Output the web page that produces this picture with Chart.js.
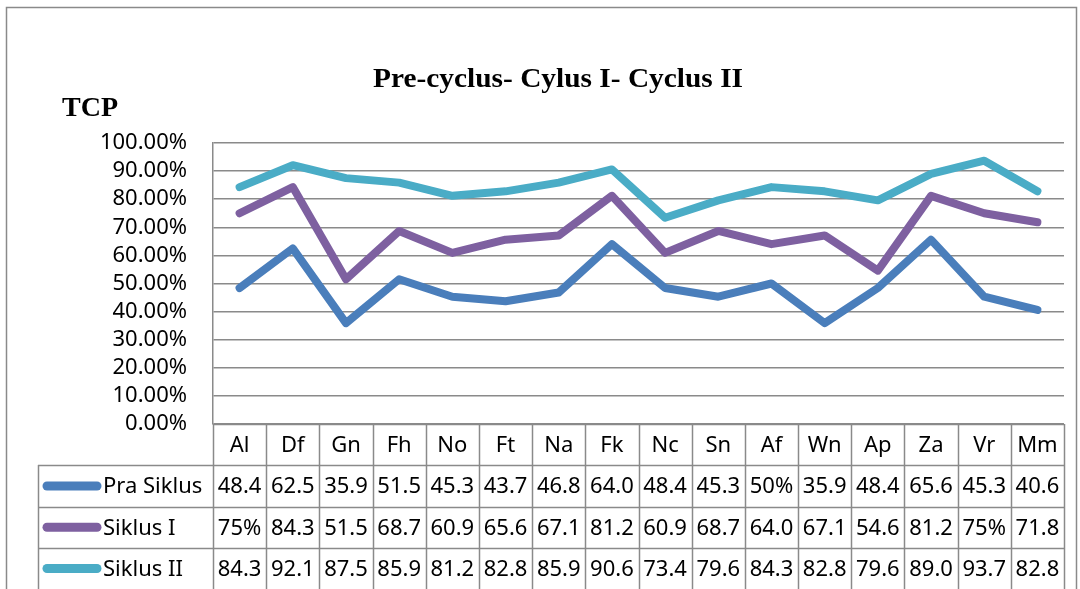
<!DOCTYPE html>
<html>
<head>
<meta charset="utf-8">
<script src="https://cdn.jsdelivr.net/npm/chart.js@4"></script>
<style>
  html, body { margin: 0; padding: 0; background: #ffffff; }
  #wrap { width: 1080px; height: 589px; overflow: hidden; }
</style>
</head>
<body>
<div id="wrap"><canvas id="c" width="1080" height="589"></canvas></div>
<script>
const categories = ["Al","Df","Gn","Fh","No","Ft","Na","Fk","Nc","Sn","Af","Wn","Ap","Za","Vr","Mm"];
const seriesNames = ["Pra Siklus", "Siklus I", "Siklus II"];
const praSiklus = [48.4, 62.5, 35.9, 51.5, 45.3, 43.7, 46.8, 64.0, 48.4, 45.3, 50, 35.9, 48.4, 65.6, 45.3, 40.6];
const siklusI   = [75, 84.3, 51.5, 68.7, 60.9, 65.6, 67.1, 81.2, 60.9, 68.7, 64.0, 67.1, 54.6, 81.2, 75, 71.8];
const siklusII  = [84.3, 92.1, 87.5, 85.9, 81.2, 82.8, 85.9, 90.6, 73.4, 79.6, 84.3, 82.8, 79.6, 89.0, 93.7, 82.8];
const praLabels = ["48.4","62.5","35.9","51.5","45.3","43.7","46.8","64.0","48.4","45.3","50%","35.9","48.4","65.6","45.3","40.6"];
const siklusILabels = ["75%","84.3","51.5","68.7","60.9","65.6","67.1","81.2","60.9","68.7","64.0","67.1","54.6","81.2","75%","71.8"];
const siklusIILabels = ["84.3","92.1","87.5","85.9","81.2","82.8","85.9","90.6","73.4","79.6","84.3","82.8","79.6","89.0","93.7","82.8"];
const chartTitle = "Pre-cyclus- Cylus I- Cyclus II";
const axisTitle = "TCP";

const colors = ["#4A7EBB", "#7E60A0", "#4AACC6"];
const gridColor = "#8a8a8a";
const bodyFont = '"Noto Sans", "Open Sans", sans-serif';
const serifFont = '"Liberation Serif", "DejaVu Serif", serif';

const tablePlugin = {
  id: 'tablePlugin',
  afterDraw(chart) {
    const ctx = chart.ctx;
    const x = chart.scales.x;
    const area = chart.chartArea;
    const n = categories.length;
    const colW = x.width / n;
    const top = area.bottom;
    const rowH = 41.3;
    const tableLeft = 38;
    const H = chart.height;
    ctx.save();
    // outer border
    ctx.strokeStyle = gridColor;
    ctx.lineWidth = 1.5;
    ctx.strokeRect(6.5, 7.5, 1070, H + 20);

    // title
    ctx.fillStyle = '#000';
    ctx.textBaseline = 'alphabetic';
    ctx.font = 'bold 27px ' + serifFont;
    let w = ctx.measureText(chartTitle).width;
    ctx.save();
    ctx.translate(558, 87);
    ctx.scale(370 / w, 1);
    ctx.textAlign = 'center';
    ctx.fillText(chartTitle, 0, 0);
    ctx.restore();
    ctx.font = 'bold 28px ' + serifFont;
    ctx.textAlign = 'left';
    ctx.fillText(axisTitle, 62, 116);

    // table lines
    ctx.strokeStyle = gridColor;
    ctx.lineWidth = 1.5;
    ctx.beginPath();
    for (let i = 0; i <= n; i++) {
      const px = Math.round(x.left + i * colW) + 0.5;
      ctx.moveTo(px, top);
      ctx.lineTo(px, H + 5);
    }
    ctx.moveTo(x.left, top + 0.5);
    ctx.lineTo(x.right, top + 0.5);
    for (let r = 1; r <= 3; r++) {
      const py = Math.round(top + r * rowH) + 0.5;
      ctx.moveTo(tableLeft, py);
      ctx.lineTo(x.right, py);
    }
    ctx.moveTo(tableLeft + 0.5, Math.round(top + rowH));
    ctx.lineTo(tableLeft + 0.5, H + 5);
    ctx.stroke();

    // header labels
    ctx.font = '22px ' + bodyFont;
    ctx.textAlign = 'center';
    ctx.textBaseline = 'middle';
    ctx.fillStyle = '#000';
    categories.forEach((c, i) => {
      ctx.fillText(c, x.getPixelForValue(i), top + rowH / 2 + 1);
    });

    const rows = [praLabels, siklusILabels, siklusIILabels];
    rows.forEach((labels, r) => {
      const cy = top + (r + 1.5) * rowH + 1;
      // legend key
      ctx.strokeStyle = colors[r];
      ctx.lineWidth = 9;
      ctx.lineCap = 'round';
      ctx.beginPath();
      ctx.moveTo(47, cy - 1);
      ctx.lineTo(97, cy - 1);
      ctx.stroke();
      ctx.textAlign = 'left';
      ctx.fillStyle = '#000';
      ctx.fillText(seriesNames[r], 103, cy);
      ctx.textAlign = 'center';
      labels.forEach((t, i) => {
        ctx.fillText(t, x.getPixelForValue(i), cy);
      });
    });
    ctx.restore();
  }
};

const mk = (label, data, color) => ({
  label, data,
  borderColor: color,
  backgroundColor: color,
  borderWidth: 8,
  pointRadius: 0,
  pointHoverRadius: 0,
  tension: 0,
  borderCapStyle: 'round',
  borderJoinStyle: 'round',
  fill: false
});

new Chart(document.getElementById('c'), {
  type: 'line',
  data: {
    labels: categories,
    datasets: [
      mk(seriesNames[0], praSiklus, colors[0]),
      mk(seriesNames[1], siklusI, colors[1]),
      mk(seriesNames[2], siklusII, colors[2])
    ]
  },
  options: {
    responsive: false,
    animation: false,
    layout: { padding: { left: 0, top: 143, right: 16, bottom: 165 } },
    plugins: {
      legend: { display: false },
      title: { display: false },
      tooltip: { enabled: false }
    },
    scales: {
      x: {
        display: false,
        offset: true
      },
      y: {
        min: 0,
        max: 100,
        afterFit(s) { s.width = 213; },
        ticks: {
          stepSize: 10,
          autoSkip: false,
          padding: 26,
          color: '#000',
          font: { family: bodyFont, size: 22 },
          callback: v => v.toFixed(2) + '%'
        },
        grid: { color: gridColor, lineWidth: 1.5, drawTicks: false },
        border: { display: true, color: gridColor, width: 1.5 }
      }
    }
  },
  plugins: [tablePlugin]
});
</script>
</body>
</html>
